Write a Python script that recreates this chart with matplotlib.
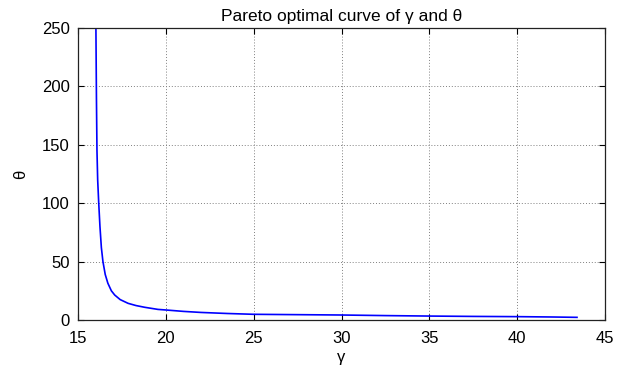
import matplotlib
matplotlib.use('Agg')
import matplotlib.pyplot as plt

plt.rcParams['font.family'] = ['Liberation Sans', 'DejaVu Sans']

# values
gamma = [16.02, 16.05, 16.08, 16.12, 16.18, 16.25, 16.33, 16.42, 16.55, 16.7,
         16.9, 17.09, 17.4, 17.85, 18.3, 18.8, 19.55, 20.0, 21.0, 22.0,
         23.5, 25.0, 27.5, 30.0, 32.5, 35.0, 37.5, 40.0, 42.0, 43.4]
theta = [250, 190, 145, 120, 100, 80, 62, 50, 39, 31.5,
         25, 21.4, 17.5, 14.3, 12.4, 10.9, 9.1, 8.6, 7.4, 6.5,
         5.6, 4.9, 4.6, 4.3, 3.8, 3.4, 3.1, 2.9, 2.6, 2.3]

xticks = [15, 20, 25, 30, 35, 40, 45]
yticks = [0, 50, 100, 150, 200, 250]

fig = plt.figure(figsize=(6.29, 3.73), dpi=100)
ax = fig.add_axes([0.124, 0.142, 0.838, 0.783])

ax.plot(gamma, theta, color=(0, 0, 1), linewidth=1.2)

ax.set_xlim(15, 45)
ax.set_ylim(0, 250)
ax.set_xticks(xticks)
ax.set_yticks(yticks)
ax.tick_params(direction='in', top=True, right=True, labelsize=12, length=4,
               width=0.8, pad=6)
ax.tick_params(axis='x', pad=8)
ax.grid(True, linestyle=(0, (1, 2)), color='#808080', linewidth=0.7)
for s in ax.spines.values():
    s.set_linewidth(0.9)
    s.set_color('#222222')

ax.set_title('Pareto optimal curve of γ and θ', fontsize=12.5, pad=5)
ax.set_xlabel('γ', fontsize=12, labelpad=3)
ax.set_ylabel('θ', fontsize=12, labelpad=10)

fig.savefig('out.png', dpi=100)
